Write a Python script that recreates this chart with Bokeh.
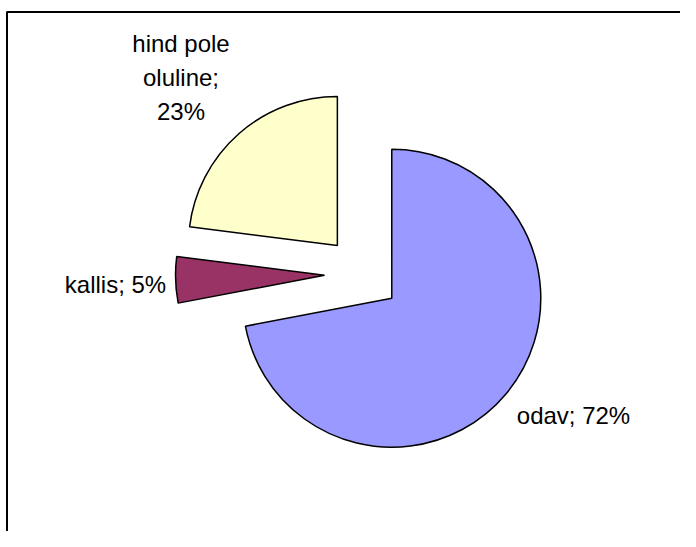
import math
from bokeh.plotting import figure
from bokeh.models import ColumnDataSource, Range1d, BoxAnnotation
from bokeh.core.properties import value
from bokeh.embed import file_html
from bokeh.resources import INLINE

# ---- data ----
categories = ["odav", "kallis", "hind pole oluline"]
label_texts = ["odav; 72%", "kallis; 5%", "hind pole\noluline;\n23%"]
shares = [72, 5, 23]
colors = ["#9999FF", "#993366", "#FFFFCC"]

# ---- layout (canvas pixels, y measured downward from canvas top) ----
W, H = 680, 531
CENTER = (362.0, 273.5)   # pie centre in canvas px
RADIUS = 149.0
EXPLODE = 38.0
LABEL_POS = [(573.0, 414.7), (115.0, 283.5), (180.5, 77.0)]

def to_data(px, py):
    return px, H - py

total = float(sum(shares))
cx, cy = to_data(*CENTER)
xs, ys, starts, ends = [], [], [], []
cum = 0.0
for v in shares:
    a0 = math.pi / 2 - 2 * math.pi * cum / total
    a1 = math.pi / 2 - 2 * math.pi * (cum + v) / total
    mid = (a0 + a1) / 2
    xs.append(cx + EXPLODE * math.cos(mid))
    ys.append(cy + EXPLODE * math.sin(mid))
    starts.append(a0)
    ends.append(a1)
    cum += v

src = ColumnDataSource(dict(x=xs, y=ys, start=starts, end=ends, color=colors,
                            cat=categories))

p = figure(width=W, height=H, output_backend="svg", toolbar_location=None,
           x_axis_location=None, y_axis_location=None,
           x_range=Range1d(0, W), y_range=Range1d(0, H),
           min_border=0, outline_line_color=None, tools="")
p.grid.visible = False
p.background_fill_color = "white"

p.wedge(x="x", y="y", radius=RADIUS, start_angle="start", end_angle="end",
        direction="clock", fill_color="color", line_color="black",
        line_width=1.5, source=src)

lx = [to_data(*pt)[0] for pt in LABEL_POS]
ly = [to_data(*pt)[1] for pt in LABEL_POS]
lsrc = ColumnDataSource(dict(x=lx, y=ly, text=label_texts))
p.text(x="x", y="y", text="text", source=lsrc, text_align="center",
       text_baseline="middle", text_font=value("Liberation Sans"),
       text_font_size="24px", text_color="black", text_line_height=1.25)

border = BoxAnnotation(left=6.5, right=W + 50, bottom=-50, top=H - 11.5,
                       fill_color=None, fill_alpha=0, line_color="black",
                       line_width=2, line_alpha=1)
p.add_layout(border)

open("out.html", "w").write(file_html(p, INLINE))
